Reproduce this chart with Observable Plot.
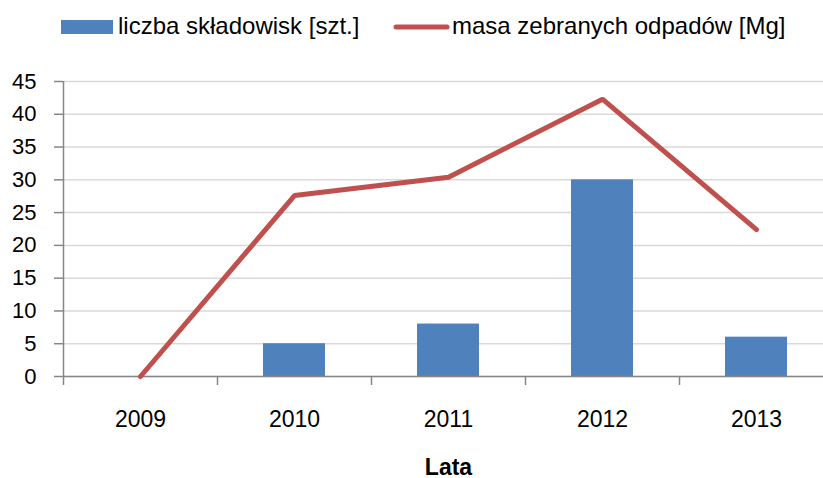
<!DOCTYPE html>
<html>
<head>
<meta charset="utf-8">
<script src="https://cdn.jsdelivr.net/npm/d3@7"></script>
<script src="https://cdn.jsdelivr.net/npm/@observablehq/plot@0.6"></script>
<style>
  html, body { margin: 0; padding: 0; background: #fff; overflow: hidden; }
  #wrap { width: 823px; height: 478px; position: relative; font-family: "Liberation Sans", Arial, sans-serif; }
  #legend { position: relative; width: 823px; height: 50px; }
  #legend svg { position: absolute; left: 0; top: 0; }
</style>
</head>
<body>
<div id="wrap">
  <div id="legend"></div>
  <div id="chart"></div>
</div>
<script>
const years = ["2009", "2010", "2011", "2012", "2013"];
const sites = [0, 5, 8, 30, 6];
const mass = [0, 27.6, 30.4, 42.3, 22.4];
const yTicks = [0, 5, 10, 15, 20, 25, 30, 35, 40, 45];
const seriesNames = ["liczba składowisk [szt.]", "masa zebranych odpadów [Mg]"];
const xLabel = "Lata";

const BLUE = "#4F81BD", RED = "#C0504D", AXIS = "#868686", GRID = "#D9D9D9";

const data = years.map((year, i) => ({year, sites: sites[i], mass: mass[i]}));

// Legend
const lg = d3.select("#legend").append("svg").attr("width", 823).attr("height", 50)
  .style("font-family", "'Liberation Sans', Arial, sans-serif");
lg.append("rect").attr("x", 61).attr("y", 20).attr("width", 52).attr("height", 14).attr("fill", BLUE);
lg.append("text").attr("x", 118).attr("y", 34).attr("font-size", 24).attr("fill", "#000").text(seriesNames[0]);
lg.append("line").attr("x1", 396).attr("x2", 447).attr("y1", 27).attr("y2", 27)
  .attr("stroke", RED).attr("stroke-width", 5).attr("stroke-linecap", "round");
lg.append("text").attr("x", 452).attr("y", 34).attr("font-size", 24).attr("fill", "#000").text(seriesNames[1]);

const chart = Plot.plot({
  width: 823,
  height: 428,
  marginTop: 31,
  marginBottom: 102,
  marginLeft: 63,
  marginRight: -10,
  style: {fontFamily: "'Liberation Sans', Arial, sans-serif", fontSize: "22px", color: "#000", overflow: "hidden", background: "#fff"},
  x: {domain: years, padding: 0, label: null},
  y: {domain: [0, 45], label: null},
  marks: [
    Plot.gridY(yTicks, {stroke: GRID, strokeOpacity: 1, strokeWidth: 1.5}),
    Plot.barY(data, {x: "year", y: "sites", fill: BLUE, insetLeft: 46, insetRight: 46}),
    Plot.ruleY([0], {stroke: AXIS, strokeWidth: 1.5}),
    Plot.ruleX([years[0]], {dx: -77, y1: 0, y2: 45, stroke: AXIS, strokeWidth: 1.5}),
    Plot.axisY(yTicks, {tickSize: 9, tickPadding: 18, stroke: AXIS, strokeWidth: 1.5, strokeOpacity: 1, fill: "#000", fontSize: 22, label: null}),
    Plot.axisX({tickSize: 9, dx: -77, stroke: AXIS, strokeWidth: 1.5, strokeOpacity: 1, tickFormat: () => "", label: null}),
    Plot.axisX({tickSize: 0, tickPadding: 34, fill: "#000", fontSize: 23, label: null}),
    Plot.lineY(data, {x: "year", y: "mass", stroke: RED, strokeWidth: 5, strokeLinecap: "round", strokeLinejoin: "miter"}),
    Plot.text([xLabel], {frameAnchor: "bottom", dy: 98, fontWeight: "bold", fontSize: 23, fill: "#000"})
  ]
});
document.getElementById("chart").appendChild(chart);
</script>
</body>
</html>
